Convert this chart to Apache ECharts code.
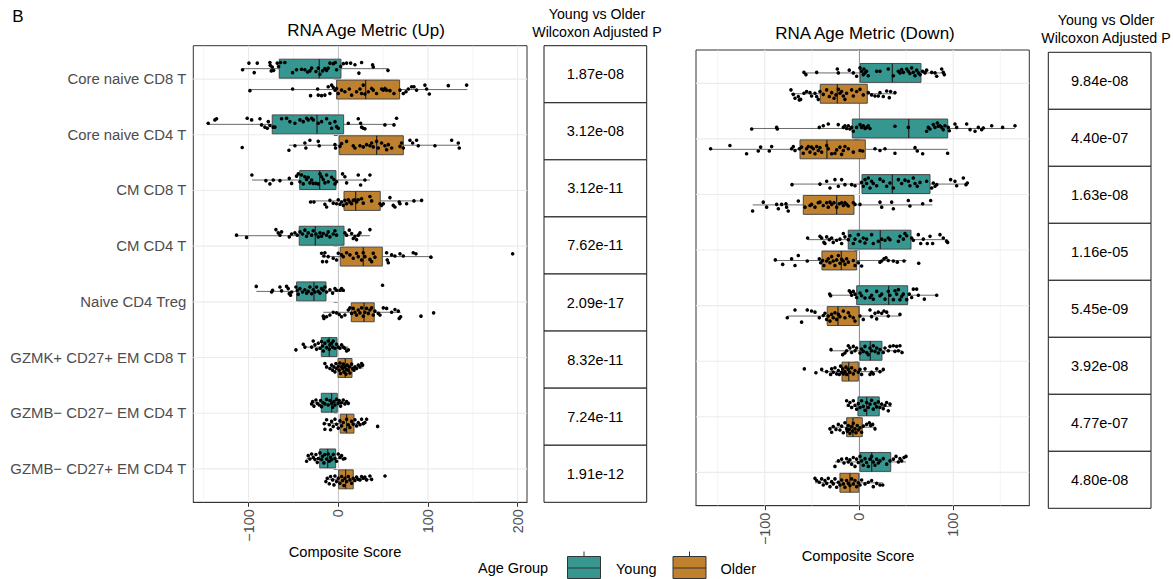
<!DOCTYPE html>
<html>
<head>
<meta charset="utf-8">
<script src="https://cdn.jsdelivr.net/npm/echarts@6/dist/echarts.min.js"></script>
<style>html,body{margin:0;padding:0;background:#fff}#c{width:1173px;height:579px}</style>
</head>
<body>
<div id="c"></div>
<script>
const categories = ['Core naive CD8 T','Core naive CD4 T','CM CD8 T','CM CD4 T','Naive CD4 Treg','GZMK+ CD27+ EM CD8 T','GZMB\u2212 CD27\u2212 EM CD4 T','GZMB\u2212 CD27+ EM CD4 T'];
const groups = ['Young','Older'];
const upTicks = [-100,0,100,200];
const downTicks = [-100,0,100];
const upP = ['1.87e-08','3.12e-08','3.12e-11','7.62e-11','2.09e-17','8.32e-11','7.24e-11','1.91e-12'];
const downP = ['9.84e-08','4.40e-07','1.63e-08','1.16e-05','5.45e-09','3.92e-08','4.77e-07','4.80e-08'];

// box stats: [lower whisker, Q1, median, Q3, upper whisker]
const upYoungBox = [[-106.6,-65.8,-21.2,3.0,55.7],[-144.9,-73.6,-23.7,6.0,63.2],[-96.2,-43.0,-20.7,-2.6,35.3],[-113.3,-43.5,-25.6,6.4,35.3],[-91.4,-46.4,-27.1,-13.7,7.5],[-37.9,-18.9,-10.0,-1.4,11.1],[-29.7,-18.9,-7.4,-1.1,11.1],[-35.2,-20.7,-11.8,-2.9,7.5]];
const upOlderBox = [[-99.2,-1.8,30.5,68.4,143.8],[-55.0,1.1,42.8,72.5,134.9],[-30.8,6.4,19.4,46.8,93.6],[-18.5,2.2,27.9,49.1,103.3],[-16.7,14.5,28.7,40.1,69.6],[-14.8,-0.3,7.8,15.3,27.9],[-15.6,2.2,9.3,17.5,30.5],[-13.7,0.4,8.2,16.7,37.2]];
const downYoungBox = [[-58.4,1.4,35.4,65.8,90.6],[-113.9,-7.1,52.8,94.2,165.6],[-71.1,3.2,35.4,75.4,115.0],[-54.5,-11.4,22.6,55.2,94.2],[-31.1,-2.4,31.5,51.7,82.8],[-29.7,1.1,12.0,24.4,45.6],[-13.1,-1.1,8.2,21.5,34.7],[-25.5,1.1,13.5,33.7,49.9]];
const downOlderBox = [[-72.2,-41.1,-23.0,8.8,38.9],[-157.4,-62.6,-34.0,6.7,94.2],[-112.8,-59.1,-23.7,-5.3,77.8],[-88.9,-39.3,-18.8,-2.4,50.6],[-76.1,-33.7,-22.3,0,43.5],[-39.6,-18.0,-10.9,-0.7,25.8],[-30.8,-13.1,-6.4,3.5,18.0],[-46.7,-20.2,-9.6,-0.3,25.2]];

// jittered points: [score, vertical jitter (category units)]
const upYoungPts = [
[[-106.7,.02],[-99.6,-.1],[-90.3,-.1],[-93.7,.07],[-76.2,-.11],[-75.8,-.06],[-74.7,.04],[-73.6,-.03],[-72.1,.03],[-68,-.1],[-66.5,-.04],[-64.3,-.11],[-59.5,-.11],[-50.9,.07],[-46.5,.02],[-40.9,.01],[-37.2,.02],[-34.2,.06],[-31.6,.04],[-29.7,-.01],[-24.9,.05],[-22.3,-.01],[-20.4,.1],[-17.5,.04],[-14.9,0],[-13,.03],[-11.2,-.01],[-9.3,-.1],[-5.6,-.09],[-3.3,-.11],[-1.9,.02],[2.6,-.04],[5.6,-.09],[9.3,-.1],[13.8,-.1],[18.6,-.07],[23,.08],[26,-.11],[38.3,-.07],[39,-.03],[55.4,.03]],
[[-145,-.02],[-137.5,-.08],[-135.7,-.1],[-101.5,-.11],[-96.6,-.08],[-87.3,-.1],[-85.5,.01],[-81.8,.05],[-79.1,.07],[-78,-.05],[-76.2,.02],[-72.5,.05],[-70.6,.05],[-63.2,-.1],[-57.6,-.11],[-53.9,-.05],[-48.3,-.02],[-42.7,-.08],[-39,-.05],[-35.3,-.11],[-33.5,-.08],[-29.7,-.11],[-27.9,-.08],[-22.3,-.02],[-18.6,-.05],[-13,-.1],[-9.3,-.02],[-7.4,.07],[-3.7,-.05],[-1.9,.04],[0,.07],[11.2,-.02],[22.3,-.1],[24.9,-.02],[26,.05],[27.9,.07],[29.7,.08],[52,.01],[62.1,.01],[65,-.11]],
[[-96.3,-.09],[-80.7,.01],[-76.2,.07],[-72.5,0],[-65,.01],[-54.6,-.03],[-52,.06],[-46.5,-.07],[-44.6,-.11],[-42.7,.03],[-40.9,-.09],[-39,.07],[-37.2,-.06],[-35.3,-.01],[-33.5,-.05],[-31.6,.05],[-29.7,0],[-27.9,.06],[-24.9,.06],[-22.3,.07],[-20.4,-.11],[-18.6,-.06],[-16.7,-.01],[-14.9,.05],[-13,-.09],[-11.2,.03],[-7.4,-.05],[-4.8,-.01],[-3.7,.07],[-1.9,.03],[4.8,-.11],[7.4,-.06],[9.3,.05],[22.3,-.09],[24.9,.09],[29.7,0],[35.3,-.09]],
[[-113.4,-.01],[-102.2,.03],[-69.5,-.11],[-66.9,-.05],[-65,-.01],[-63.2,-.07],[-54.6,.02],[-52,-.03],[-48.3,-.05],[-45.7,-.01],[-42.7,-.07],[-39.8,-.03],[-37.2,-.1],[-35.3,.01],[-33.5,-.05],[-29.7,-.01],[-27.9,-.09],[-24.9,-.03],[-22.3,.02],[-20.4,-.05],[-18.6,.01],[-16.7,-.04],[-13,-.01],[-11.2,-.07],[-9.3,.02],[-5.6,-.03],[-3.7,-.09],[-1.9,-.01],[7.4,-.05],[9.3,-.01],[12.3,-.1],[14.9,-.04],[16.7,.05],[18.6,.01],[20.4,.07],[22.3,-.01],[24.2,-.05],[35.3,-.11]],
[[-91.4,-.09],[-74.3,.01],[-73.2,-.02],[-65,-.08],[-63.2,-.01],[-57.6,-.09],[-55.8,-.05],[-54.6,.04],[-53.2,.07],[-52,.01],[-47.2,-.08],[-45.7,-.02],[-44.6,.05],[-42.7,-.05],[-39.8,.01],[-37.2,-.03],[-35.3,.03],[-33.5,0],[-31.6,-.08],[-29.7,.04],[-27.9,-.03],[-26,.01],[-24.2,-.08],[-22.3,0],[-20.4,.03],[-18.6,-.05],[-16.7,-.02],[-14.9,-.08],[-13,.01],[-9.3,-.03],[-6.3,.03],[-3.7,-.05],[-1.9,-.02],[1.9,-.02],[3.7,-.05],[5.6,-.02],[49.4,-.11]],
[[-47.2,.05],[-39,-.05],[-37.2,0],[-29.7,0],[-27.9,-.11],[-26,-.04],[-24.2,.04],[-22.3,-.07],[-20.4,.02],[-18.6,-.1],[-17.5,-.02],[-16.7,.07],[-14.9,-.07],[-13,.01],[-11.2,-.11],[-10,.04],[-9.3,-.04],[-7.4,-.07],[-6.3,0],[-5.6,-.11],[-3.7,.02],[-1.9,-.05],[0,0],[1.9,.02],[3.7,-.04],[5.6,0],[7.4,.02],[9.3,.07],[11.2,.05]],
[[-29.7,.02],[-28.6,-.02],[-27.1,.06],[-24.9,-.05],[-23.4,.01],[-21.2,.04],[-19.7,-.04],[-18.6,.07],[-16.7,0],[-14.9,.02],[-13,-.06],[-11.2,.04],[-9.3,-.04],[-7.4,.01],[-6.3,.08],[-4.8,-.02],[-3.7,.04],[-1.9,-.06],[0,.01],[1.1,-.04],[2.6,.06],[3.7,0],[5.6,-.05],[7.4,.02],[9.3,-.02],[11.2,.01]],
[[-35.3,.05],[-33.5,-.05],[-31.6,.01],[-29.7,-.08],[-27.9,-.02],[-26,.02],[-24.9,-.07],[-23.4,.07],[-22.3,0],[-20.4,-.1],[-18.6,.02],[-17.5,-.04],[-16,.08],[-14.9,-.07],[-13,.01],[-11.2,-.08],[-10,.05],[-8.6,-.02],[-7.4,.02],[-5.6,-.07],[-3.7,0],[-1.9,.05],[0,-.08],[1.9,-.02],[3.7,-.05],[5.6,.01],[7.4,0]]
];
const upOlderPts = [
[[-98.5,.02],[-50.9,-.01],[-30.9,.11],[-23,-.01],[-22.3,.1],[-18.6,.11],[-14.9,.1],[-11.2,-.05],[-9.3,.07],[-7.4,-.08],[-5.6,-.04],[-3.7,.01],[-1.9,-.02],[0,.07],[3.7,.01],[7.4,.04],[12.3,-.01],[14.9,.1],[20.4,.04],[24.2,-.01],[26,.07],[27.9,-.08],[29.7,.08],[33.5,.04],[37.2,-.02],[39,.01],[42.7,.07],[48.3,-.01],[50.2,.01],[52,-.02],[53.9,.01],[57.6,.02],[62.1,.07],[68.8,.01],[72.5,.07],[75.5,.04],[78.1,-.01],[81.8,-.05],[84.4,-.05],[87.3,.01],[96.6,-.08],[98.5,-.01],[101.5,.08],[122.7,-.07],[143.1,-.08]],
[[-107.1,.04],[-55,.09],[-48.3,.01],[-37.2,-.04],[-36.1,.05],[-31.6,-.09],[-22.3,-.07],[-21.2,.01],[-3.7,-.01],[-3,.05],[1.9,.02],[3.7,-.03],[9.3,-.07],[16.7,.01],[18.6,.05],[24.2,.01],[27.9,.03],[31.6,-.01],[35.3,.01],[37.2,-.04],[39,.03],[42.7,-.07],[44.6,.05],[48.3,-.04],[52,.01],[53.9,.08],[55.8,-.01],[59.5,.05],[68.8,.02],[70.6,-.04],[72.5,.05],[79.9,-.09],[82.9,-.04],[87.3,-.09],[89.2,.01],[107.8,.01],[126.4,-.09],[133.8,-.04],[134.9,.05]],
[[-30.9,.02],[-27.1,.02],[-14.9,.06],[-13,.11],[-9.3,-.01],[-5.6,.04],[-1.9,.05],[0,-.02],[1.9,.06],[3.7,.02],[5.6,.08],[7.4,-.01],[9.3,.05],[11.2,-.02],[13,.02],[14.9,.05],[16.7,-.01],[18.6,-.02],[20.4,.02],[22.3,-.02],[26,-.04],[27.9,.04],[35.3,-.08],[37.2,0],[46.5,.05],[48.3,.08],[50.2,.05],[57.6,-.06],[61.3,.08],[63.2,.11],[68.8,.05],[68,.02],[76.2,.05],[84.4,0],[92.9,-.01]],
[[-18.6,-.06],[-17.5,.09],[-16,-.01],[-14.9,-.07],[-13,.09],[-11.2,0],[-5.6,.03],[-1.9,.06],[0,-.06],[3.7,-.03],[5.6,0],[9.3,-.07],[13,-.03],[16.7,.03],[20.4,-.06],[22.3,0],[26,.06],[27.9,-.07],[29.7,0],[35.3,.05],[37.2,.09],[39,-.06],[40.9,.01],[53.9,-.07],[54.6,.06],[55.8,.11],[59.5,-.03],[63.2,-.01],[68.8,-.05],[72.5,-.01],[83.6,-.07],[86.6,-.05],[103.3,.01],[194.4,-.05]],
[[-16.7,.07],[-16,.11],[-13,.08],[-9.3,.05],[-5.6,0],[-1.9,.01],[1.1,.04],[3.7,.08],[7.4,.05],[11.2,-.04],[13,-.08],[14.9,.02],[16.7,-.07],[18.6,0],[20.4,.05],[22.3,-.04],[24.2,.01],[26,-.08],[27.9,.07],[29.7,0],[31.6,-.07],[33.5,.02],[35.3,-.04],[37.2,-.08],[39,.05],[40.9,-.02],[44.6,.02],[46.5,.05],[50.2,-.08],[53.9,-.07],[59.5,0],[63.2,-.05],[66.9,-.02],[68,.11],[69.5,.08],[92.2,.07],[106.3,.01]],
[[-14.9,-.08],[-13,-.02],[-9.3,.01],[-7.4,-.05],[-6.3,.04],[-4.8,-.02],[-3.7,.07],[-2.6,-.08],[-1.9,.01],[0,-.03],[1.1,.04],[1.9,-.09],[2.6,.1],[3.7,-.02],[4.8,.01],[5.6,-.07],[6.3,.07],[7.4,-.02],[8.6,.11],[9.3,.03],[10,-.05],[11.2,.04],[12.3,-.02],[13,.09],[14.9,-.07],[16,.01],[17.5,.04],[18.6,-.02],[20.4,.01],[22.3,-.05],[24.2,-.02],[26,-.08],[27.1,-.05]],
[[-15.6,0],[-14.9,.1],[-13,-.07],[-10,.02],[-8.6,.11],[-7.4,-.04],[-5.6,.05],[-3.7,-.08],[-1.9,.01],[0,.08],[1.9,-.05],[3.7,.04],[5.6,-.02],[7.4,.11],[9.3,-.08],[11.2,.02],[13,.07],[14.9,-.04],[16.7,.01],[18.6,-.07],[20.4,.04],[22.3,-.02],[24.2,.02],[26,-.08],[27.9,0],[29.7,-.02],[31.6,-.08],[43.9,.05]],
[[-13.8,.04],[-12.3,-.02],[-10,.08],[-8.6,-.05],[-6.3,.01],[-4.8,.1],[-3.7,-.06],[-1.9,.04],[0,-.02],[1.9,.07],[3.7,-.05],[4.8,.02],[6.3,.11],[7.4,-.02],[9.3,.04],[11.2,-.05],[13,.01],[14.9,.07],[16.7,-.02],[18.6,.02],[20.4,-.04],[22.3,0],[24.2,.01],[26,-.05],[27.9,-.02],[29.7,-.04],[31.6,.01],[35.3,-.06],[37.2,0],[52.1,-.06]]
];
const downYoungPts = [
[[-58.4,-.01],[-56.3,.03],[-44.9,-.01],[-23,-.07],[-21.9,0],[-10.3,-.05],[-6,0],[-2.5,.06],[1.1,-.09],[2.8,-.03],[4.6,.03],[5.3,-.07],[6.4,0],[8.1,-.03],[9.9,.05],[18.8,-.03],[22.3,-.03],[31.1,-.07],[36.5,.05],[41.8,-.03],[43.5,0],[45.3,-.06],[47.1,-.01],[50.6,-.07],[52.4,-.03],[54.1,.01],[55.9,-.09],[57.7,-.01],[59.5,.05],[61.2,-.05],[63,0],[64.8,.03],[67.6,-.03],[70.1,0],[71.8,-.05],[77.2,-.01],[80.7,0],[82.5,.06],[87.8,-.07],[89.5,-.01],[90.6,.03]],
[[-113.9,.01],[-87.4,-.02],[-86.7,.01],[-42.1,-.02],[-37.9,-.05],[-32.6,-.08],[-22,-.07],[-16.6,-.02],[-14.9,-.05],[-13.1,0],[-11.3,-.05],[-9.6,.01],[-7.8,-.02],[-6,.05],[-2.5,-.02],[1.1,-.07],[2.8,-.02],[4.6,-.05],[6.4,0],[8.1,-.02],[9.9,-.05],[11.7,0],[38.2,-.04],[52.4,-.02],[71.8,.05],[73.6,-.02],[75.4,.01],[78.9,-.07],[80.7,-.02],[83.2,-.1],[84.2,-.04],[86,-.05],[87.8,-.02],[89.5,.02],[91.3,-.05],[94.8,-.02],[95.9,.04],[101.9,-.08],[103.7,-.02],[114.3,-.08],[117.9,.02],[123.2,.05],[126.7,-.02],[130.2,.02],[132,-.01],[140.9,-.05],[152.5,-.02],[165.6,-.05]],
[[-71.1,.01],[-41.4,0],[-34.3,-.05],[-30.8,.07],[-25.5,-.08],[-21.9,.04],[-18.4,-.08],[-14.9,.01],[-7.8,.01],[-4.2,.03],[2.8,-.03],[4.6,.04],[6.4,-.08],[8.1,-.01],[9.9,-.11],[11.7,.07],[13.4,-.05],[15.2,-.01],[18.8,.03],[22.3,-.09],[25.8,-.05],[29.4,.04],[32.9,-.02],[36.5,.07],[41.8,-.08],[45.3,-.01],[48.8,-.07],[52.4,-.05],[54.1,.03],[57.7,-.11],[59.5,-.01],[61.9,.04],[64.8,-.03],[71.8,-.05],[77.2,.07],[78.9,-.02],[80.7,.04],[82.5,.01],[97.3,-.08],[101.9,-.05],[103.7,.03],[110.8,-.11],[113.6,.01],[115,-.02]],
[[-54.5,-.03],[-41.4,-.06],[-39.6,-.03],[-37.2,.05],[-36.1,.07],[-34.3,-.05],[-31.5,0],[-29,-.03],[-27.3,.05],[-23.7,.01],[-20.2,-.01],[-18.4,.07],[-16.6,-.11],[-14.9,-.05],[-11.3,0],[-9.6,-.07],[-6,.07],[-4.2,-.01],[-.7,-.09],[1.1,.03],[4.6,-.03],[6.4,.06],[8.1,-.01],[13.4,-.09],[15.2,.07],[20.5,.03],[24.1,-.01],[27.6,.01],[31.1,-.03],[32.9,0],[41.8,.03],[43.5,-.06],[47.1,-.01],[48.8,-.11],[50.6,-.07],[55.9,-.03],[57.7,.01],[63,-.09],[65.5,.07],[68.3,-.01],[72.5,.07],[75.4,-.06],[78.2,.07],[86,-.09],[89.5,-.03],[93,.03],[94.1,.05]],
[[-31.1,-.02],[-30.1,.01],[-10.3,-.08],[-8.8,-.05],[-7.8,0],[-6,-.07],[-4.2,-.02],[-2.5,.04],[1.1,-.04],[2.8,.01],[6.4,.05],[8.1,-.08],[11.7,.04],[13.4,0],[15.2,.07],[18.8,-.07],[22.3,.01],[24.1,-.02],[27.6,.07],[31.1,-.07],[32.9,0],[36.5,.08],[38.2,-.08],[40,-.02],[41.8,-.1],[43.5,.08],[45.3,.02],[47.1,-.02],[50.6,.08],[53.4,-.02],[55.9,.04],[57.7,-.11],[61.2,-.11],[63,0],[69.4,.07],[82.5,0]],
[[-29.7,-.02],[-17.3,.07],[-14.9,.04],[-13.1,0],[-11.3,-.09],[-9.6,-.05],[-7.8,.03],[-6,-.08],[-4.2,0],[-2.5,-.05],[1.1,.04],[2.8,-.03],[4.6,.01],[6.4,-.08],[8.1,.03],[9.9,.07],[11.7,-.05],[13.4,0],[15.2,-.09],[17,.01],[18.8,-.05],[20.5,.04],[22.3,-.02],[25.8,.03],[27.6,-.05],[31.1,0],[32.9,-.08],[36.5,-.09],[38.2,.01],[40,-.08],[41.8,0],[43.5,-.09],[45.7,.03]],
[[-13.1,-.1],[-11.3,-.02],[-9.6,-.07],[-7.8,.02],[-6,-.1],[-4.2,-.02],[-2.5,.05],[-.7,-.05],[1.1,.02],[2.8,-.1],[4.6,0],[6.4,.07],[8.1,-.07],[9.9,.02],[11.7,-.04],[13.4,-.11],[15.2,.05],[17,-.05],[18.8,.01],[20.5,-.08],[22.3,.02],[24.1,-.04],[25.8,.04],[27.6,-.02],[29.4,-.07],[31.1,.08],[32.9,-.04]],
[[-25.5,.08],[-21.9,-.02],[-18.4,-.05],[-15.9,.02],[-13.1,-.06],[-11.3,0],[-9.6,-.04],[-7.8,.04],[-6,-.08],[-4.2,.08],[-2.5,-.05],[-.7,.01],[1.1,-.1],[2.8,-.02],[4.6,.06],[6.4,-.06],[8.1,.01],[9.9,.08],[11.7,-.05],[13.4,-.1],[15.2,0],[17,.06],[18.8,-.05],[20.5,.02],[22.3,-.02],[25.8,-.06],[29.4,.04],[32.9,-.02],[36.5,-.05],[39.3,-.1],[41.8,0],[43.5,-.06],[45.3,-.02],[47.8,-.08],[49.9,-.1]]
];
const downOlderPts = [
[[-72.2,-.07],[-69.7,.01],[-67.9,.08],[-64.4,.05],[-63.3,.11],[-61.9,.1],[-58.4,-.01],[-55.6,-.04],[-52,-.02],[-50.3,.04],[-46.7,-.01],[-44.9,.05],[-43.2,.1],[-41.4,-.04],[-37.9,.01],[-34.3,-.07],[-31.5,.05],[-29,-.02],[-26.5,.08],[-24.4,.02],[-21.9,-.08],[-20.2,-.01],[-18.4,-.04],[-16.6,.04],[-14.9,.1],[-13.1,-.01],[-7.8,-.07],[-6,.04],[-2.5,-.04],[1.1,-.08],[4.6,.02],[9.9,-.02],[13.4,.02],[17,.04],[20.5,.04],[22.3,-.02],[25.8,.05],[29.4,-.05],[32.2,.07],[33.6,-.04],[38.2,-.02]],
[[-157.5,-.01],[-137,-.07],[-119.3,.08],[-106.9,.03],[-104.4,-.04],[-95.2,.03],[-92.7,-.05],[-71.5,-.01],[-69.7,-.05],[-67.9,.02],[-63.3,-.01],[-60.9,-.04],[-59.1,.07],[-55.6,-.01],[-53.8,-.05],[-52,.05],[-50.3,-.04],[-48.5,-.01],[-46.7,.08],[-44.9,-.05],[-43.2,.02],[-41.4,-.03],[-39.6,.05],[-34.3,-.07],[-32.6,-.01],[-29,.08],[-25.5,.07],[-23.7,.01],[-20.2,-.04],[-18.4,.09],[-16.6,.02],[-14.9,-.05],[-11.3,-.01],[-6,.05],[1.1,.02],[3.9,.03],[17,-.01],[22.3,.02],[27.6,-.01],[38.2,.07],[59.5,-.03],[61.9,.03],[67.6,.08],[94.1,.07]],
[[-112.9,.11],[-101.6,-.05],[-98,.04],[-87.4,-.01],[-85.6,.07],[-82.1,-.01],[-77.5,-.02],[-76.8,.04],[-75.1,.11],[-64.4,-.07],[-57.3,.04],[-52,.01],[-50.3,-.01],[-46.7,.04],[-43.2,-.04],[-41.4,-.05],[-37.9,.01],[-34.3,-.04],[-32.6,.04],[-30.8,-.05],[-29,-.01],[-26.5,-.04],[-23.7,.04],[-20.9,-.02],[-18.4,-.04],[-16.6,.01],[-14.9,-.04],[-13.1,-.01],[-11.3,.02],[-6,-.04],[-4.2,-.01],[1.1,-.01],[22.3,-.05],[24.1,.04],[34.7,-.05],[36.5,.07],[52.4,-.08],[54.1,.02],[67.6,-.02],[76.1,-.08]],
[[-88.8,-.01],[-81,.07],[-71.5,-.03],[-67.9,.09],[-64.4,-.09],[-54.9,.01],[-42.1,-.03],[-40.7,.04],[-38.6,0],[-37.2,.09],[-34.3,.01],[-32.6,-.03],[-30.8,.04],[-29,-.07],[-27.3,.01],[-25.5,.09],[-23.7,-.01],[-21.9,-.09],[-20.2,.05],[-18.4,-.02],[-16.6,.01],[-14.9,.07],[-13.1,-.03],[-11.3,.03],[-6,0],[-4.2,.09],[-.7,.04],[2.8,.1],[22.3,.03],[24.1,.01],[26.5,-.03],[28.7,-.05],[31.1,0],[36.5,.01],[40.7,.03],[47.8,.01],[63.4,.05]],
[[-76.1,.03],[-67.9,-.11],[-60.9,.11],[-54.9,-.11],[-50.3,-.09],[-46.7,-.07],[-42.1,.03],[-37.9,-.01],[-36.1,-.05],[-34.3,.06],[-32.6,0],[-30.8,.09],[-29,-.03],[-27.3,.03],[-25.5,-.06],[-23.7,.06],[-21.9,-.03],[-20.2,.01],[-16.6,-.09],[-14.9,.03],[-11.3,-.06],[-9.6,0],[-6,.03],[-4.2,.09],[1.1,0],[4.6,.06],[11.7,-.11],[13.4,.01],[17,-.05],[18.8,.05],[20.5,-.07],[24.1,-.05],[26.5,-.09],[29.4,-.07],[31.1,0],[43.5,-.03]],
[[-58,-.05],[-45.7,.02],[-39.6,-.04],[-34.3,0],[-30.1,.05],[-29,-.05],[-27.3,.01],[-25.5,-.07],[-23.7,.04],[-21.9,-.02],[-20.9,.05],[-19.5,-.1],[-18.4,.01],[-17.3,-.05],[-16.6,.04],[-14.9,0],[-13.8,-.08],[-13.1,.05],[-11.3,-.04],[-9.6,.01],[-7.8,-.07],[-6,.04],[-4.2,-.02],[-.7,.01],[1.1,-.04],[2.8,.05],[6.4,-.05],[11.7,.05],[13.4,.01],[15.2,.04],[18.8,-.05],[22.3,0],[25.8,-.04]],
[[-30.8,.03],[-29,.09],[-27.3,-.01],[-24.4,.04],[-21.9,-.05],[-20.2,.05],[-18.4,-.02],[-16.6,.1],[-14.9,-.08],[-13.1,.03],[-12.4,.07],[-11.3,-.03],[-10.3,.04],[-9.6,.11],[-7.8,-.01],[-6.7,.07],[-6,-.07],[-4.2,.03],[-3.2,.1],[-1.8,-.03],[-.7,.05],[1.1,.01],[2.8,.09],[4.6,-.02],[8.1,-.05],[11,-.08],[12.4,-.03],[14.5,-.05],[17,.03]],
[[-46.7,-.08],[-44.9,-.04],[-42.1,-.01],[-39.6,-.07],[-37.9,.04],[-36.1,-.04],[-34.3,.01],[-32.6,-.08],[-30.8,.07],[-29,-.02],[-27.3,.02],[-25.5,-.07],[-23.7,.08],[-21.9,-.01],[-20.2,.04],[-18.4,-.05],[-16.6,.02],[-14.9,.08],[-13.1,-.04],[-11.3,.01],[-9.6,.05],[-7.8,-.07],[-6,.02],[-4.2,-.04],[-2.5,.07],[-.7,0],[1.1,.04],[2.8,-.05],[6.4,.02],[9.9,-.01],[13.4,-.04],[15.2,.07],[18.8,.01],[22.3,.04],[25.2,.04]]
];

const COLORS = {Young:'#35978F', Older:'#BF812D'};
const FONT = '"Liberation Sans", Arial, Helvetica, sans-serif';
const DODGE = 0.1875, HALF = 0.17;

function minusFmt(v){ return v < 0 ? '\u2212' + Math.abs(v) : String(v); }

function boxData(stats, side){
  return stats.map((s,i)=>[i+1, side].concat(s));
}
function ptData(rows, side){
  const out=[];
  rows.forEach((row,i)=>row.forEach(p=>out.push([p[0], i+1+side*DODGE+p[1]])));
  return out;
}
function renderBox(color){
  return function(params, api){
    const yc = api.value(0) + api.value(1)*DODGE;
    const lo=api.coord([api.value(2),yc]), q1=api.coord([api.value(3),yc]), md=api.coord([api.value(4),yc]), q3=api.coord([api.value(5),yc]), hi=api.coord([api.value(6),yc]);
    const t = api.coord([api.value(3), yc-HALF])[1], b = api.coord([api.value(3), yc+HALF])[1];
    const top=Math.min(t,b), h=Math.abs(b-t);
    return {type:'group', children:[
      {type:'line', shape:{x1:lo[0],y1:lo[1],x2:q1[0],y2:q1[1]}, style:{stroke:'#444',lineWidth:0.8}},
      {type:'line', shape:{x1:q3[0],y1:q3[1],x2:hi[0],y2:hi[1]}, style:{stroke:'#444',lineWidth:0.8}},
      {type:'rect', shape:{x:q1[0],y:top,width:q3[0]-q1[0],height:h}, style:{fill:color,stroke:'#4a4a4a',lineWidth:1}},
      {type:'line', shape:{x1:md[0],y1:top,x2:md[0],y2:top+h}, style:{stroke:'#222',lineWidth:1.2}}
    ]};
  };
}
// gridlines: [orientation (0 vertical,1 horizontal), value, major]
function gridDefs(majors, minors){
  const d=[];
  minors.forEach(v=>d.push([0,v,0]));
  majors.forEach(v=>d.push([0,v,1]));
  categories.forEach((c,i)=>d.push([1,i+1,1]));
  return d;
}
function renderGrid(params, api){
  const cs = params.coordSys;
  const o=api.value(0), v=api.value(1), major=api.value(2);
  const st = {stroke:'#ebebeb', lineWidth: major ? 1.1 : 0.55};
  if(o===0){
    const x = api.coord([v, 1])[0];
    return {type:'line', shape:{x1:x,y1:cs.y,x2:x,y2:cs.y+cs.height}, style:st};
  } else {
    const y = api.coord([0, v])[1];
    return {type:'line', shape:{x1:cs.x,y1:y,x2:cs.x+cs.width,y2:y}, style:st};
  }
}
function renderCell(texts){
  return function(params, api){
    const r = api.value(0);
    const p1 = api.coord([0, r]), p2 = api.coord([1, r+1]);
    return {type:'group', children:[
      {type:'rect', shape:{x:p1[0],y:p1[1],width:p2[0]-p1[0],height:p2[1]-p1[1]}, style:{fill:'#fff',stroke:'#1a1a1a',lineWidth:1}},
      {type:'text', style:{text:texts[params.dataIndex], x:(p1[0]+p2[0])/2, y:(p1[1]+p2[1])/2, textAlign:'center', textVerticalAlign:'middle', align:'center', verticalAlign:'middle', fontSize:14.5, fontFamily:FONT, fill:'#000'}}
    ]};
  };
}

function valueX(grid, min, max, ticks){
  return {type:'value', gridIndex:grid, min:min, max:max,
    axisLine:{show:true, lineStyle:{color:'#333', width:1}},
    axisTick:{show:true, customValues:ticks, length:4.5, lineStyle:{color:'#333', width:1}},
    axisLabel:{show:true, customValues:ticks, rotate:90, margin:7, color:'#4d4d4d', fontSize:14.4, fontFamily:FONT, formatter:minusFmt},
    splitLine:{show:false}};
}
function catY(grid, labels){
  const vals = categories.map((c,i)=>i+1);
  return {type:'value', gridIndex:grid, min:0.4, max:8.6, inverse:true,
    axisLine:{show:true, lineStyle:{color:'#333', width:1}},
    axisTick:{show:true, customValues:vals, length:4.5, lineStyle:{color:'#333', width:1}},
    axisLabel:{show:labels, customValues:vals, margin:7, color:'#4d4d4d', fontSize:14.9, fontFamily:FONT, formatter:v=>categories[Math.round(v)-1]},
    splitLine:{show:false}};
}
function hiddenAxis(grid, max, inverse){
  return {type:'value', gridIndex:grid, min:0, max:max, inverse:!!inverse, show:false, splitLine:{show:false}};
}

const panelGrid = {show:true, borderColor:'#333', borderWidth:1, backgroundColor:'#fff'};
const option = {
  animation:false,
  backgroundColor:'#fff',
  textStyle:{fontFamily:FONT},
  grid:[
    Object.assign({left:193.3, top:45.7, width:333.7, height:456.6}, panelGrid),
    {left:544, top:45.7, width:102.7, height:456.6, show:false},
    Object.assign({left:696, top:50, width:333.3, height:455.7}, panelGrid),
    {left:1048.3, top:52.3, width:102.7, height:456, show:false}
  ],
  xAxis:[ valueX(0,-161.6,210.4,upTicks), hiddenAxis(1,1), valueX(2,-173,180.8,downTicks), hiddenAxis(3,1) ],
  yAxis:[ catY(0,true), hiddenAxis(1,8,true), catY(2,false), hiddenAxis(3,8,true) ],
  series:[
    {type:'custom', name:'gridUp', xAxisIndex:0, yAxisIndex:0, z:1, silent:true, renderItem:renderGrid, data:gridDefs(upTicks,[-150,-50,50,150]), encode:{x:1,y:1}},
    {type:'custom', name:'gridDown', xAxisIndex:2, yAxisIndex:2, z:1, silent:true, renderItem:renderGrid, data:gridDefs(downTicks,[-150,-50,50,150]), encode:{x:1,y:1}},
    {type:'custom', name:'Young', xAxisIndex:0, yAxisIndex:0, z:2, renderItem:renderBox(COLORS.Young), data:boxData(upYoungBox,-1), encode:{x:[2,3,4,5,6], y:0}},
    {type:'custom', name:'Older', xAxisIndex:0, yAxisIndex:0, z:2, renderItem:renderBox(COLORS.Older), data:boxData(upOlderBox,1), encode:{x:[2,3,4,5,6], y:0}},
    {type:'custom', name:'Young', xAxisIndex:2, yAxisIndex:2, z:2, renderItem:renderBox(COLORS.Young), data:boxData(downYoungBox,-1), encode:{x:[2,3,4,5,6], y:0}},
    {type:'custom', name:'Older', xAxisIndex:2, yAxisIndex:2, z:2, renderItem:renderBox(COLORS.Older), data:boxData(downOlderBox,1), encode:{x:[2,3,4,5,6], y:0}},
    {type:'scatter', name:'Young points', xAxisIndex:0, yAxisIndex:0, z:3, symbolSize:3.6, itemStyle:{color:'#000', opacity:1}, data:ptData(upYoungPts,-1)},
    {type:'scatter', name:'Older points', xAxisIndex:0, yAxisIndex:0, z:3, symbolSize:3.6, itemStyle:{color:'#000', opacity:1}, data:ptData(upOlderPts,1)},
    {type:'scatter', name:'Young points', xAxisIndex:2, yAxisIndex:2, z:3, symbolSize:3.6, itemStyle:{color:'#000', opacity:1}, data:ptData(downYoungPts,-1)},
    {type:'scatter', name:'Older points', xAxisIndex:2, yAxisIndex:2, z:3, symbolSize:3.6, itemStyle:{color:'#000', opacity:1}, data:ptData(downOlderPts,1)},
    {type:'custom', name:'pUp', xAxisIndex:1, yAxisIndex:1, renderItem:renderCell(upP), data:upP.map((p,i)=>[i]), encode:{y:0}},
    {type:'custom', name:'pDown', xAxisIndex:3, yAxisIndex:3, renderItem:renderCell(downP), data:downP.map((p,i)=>[i]), encode:{y:0}}
  ],
  graphic:[
    {type:'text', x:18, y:16, style:{text:'B', fontSize:17, fontFamily:FONT, fill:'#000', textAlign:'center', textVerticalAlign:'middle', align:'center', verticalAlign:'middle'}},
    {type:'text', x:366, y:30, style:{text:'RNA Age Metric (Up)', fontSize:17, fontFamily:FONT, fill:'#000', textAlign:'center', textVerticalAlign:'middle', align:'center', verticalAlign:'middle'}},
    {type:'text', x:865, y:33, style:{text:'RNA Age Metric (Down)', fontSize:17, fontFamily:FONT, fill:'#000', textAlign:'center', textVerticalAlign:'middle', align:'center', verticalAlign:'middle'}},
    {type:'text', x:597, y:14, style:{text:'Young vs Older', fontSize:14.2, fontFamily:FONT, fill:'#000', textAlign:'center', textVerticalAlign:'middle', align:'center', verticalAlign:'middle'}},
    {type:'text', x:597, y:31.5, style:{text:'Wilcoxon Adjusted P', fontSize:14.2, fontFamily:FONT, fill:'#000', textAlign:'center', textVerticalAlign:'middle', align:'center', verticalAlign:'middle'}},
    {type:'text', x:1106, y:20, style:{text:'Young vs Older', fontSize:14.2, fontFamily:FONT, fill:'#000', textAlign:'center', textVerticalAlign:'middle', align:'center', verticalAlign:'middle'}},
    {type:'text', x:1106, y:37.5, style:{text:'Wilcoxon Adjusted P', fontSize:14.2, fontFamily:FONT, fill:'#000', textAlign:'center', textVerticalAlign:'middle', align:'center', verticalAlign:'middle'}},
    {type:'text', x:345, y:552, style:{text:'Composite Score', fontSize:14.7, fontFamily:FONT, fill:'#000', textAlign:'center', textVerticalAlign:'middle', align:'center', verticalAlign:'middle'}},
    {type:'text', x:858, y:556, style:{text:'Composite Score', fontSize:14.7, fontFamily:FONT, fill:'#000', textAlign:'center', textVerticalAlign:'middle', align:'center', verticalAlign:'middle'}},
    {type:'text', x:478, y:568, style:{text:'Age Group', fontSize:14.5, fontFamily:FONT, fill:'#000', textAlign:'left', textVerticalAlign:'middle', align:'left', verticalAlign:'middle'}},
    {type:'line', shape:{x1:584,y1:551.5,x2:584,y2:556.5}, style:{stroke:'#333',lineWidth:1}},
    {type:'rect', shape:{x:567.5,y:556.5,width:33,height:22}, style:{fill:COLORS.Young,stroke:'#333',lineWidth:1}},
    {type:'line', shape:{x1:567.5,y1:568,x2:600.5,y2:568}, style:{stroke:'#333',lineWidth:1}},
    {type:'text', x:616, y:569, style:{text:'Young', fontSize:14.5, fontFamily:FONT, fill:'#000', textAlign:'left', textVerticalAlign:'middle', align:'left', verticalAlign:'middle'}},
    {type:'line', shape:{x1:689.5,y1:551.5,x2:689.5,y2:556.5}, style:{stroke:'#333',lineWidth:1}},
    {type:'rect', shape:{x:673,y:556.5,width:33,height:22}, style:{fill:COLORS.Older,stroke:'#333',lineWidth:1}},
    {type:'line', shape:{x1:673,y1:568,x2:706,y2:568}, style:{stroke:'#333',lineWidth:1}},
    {type:'text', x:720.5, y:569, style:{text:'Older', fontSize:14.5, fontFamily:FONT, fill:'#000', textAlign:'left', textVerticalAlign:'middle', align:'left', verticalAlign:'middle'}}
  ]
};
const chart = echarts.init(document.getElementById('c'), null, {renderer:'svg', width:1173, height:579});
chart.setOption(option);
</script>
</body>
</html>
